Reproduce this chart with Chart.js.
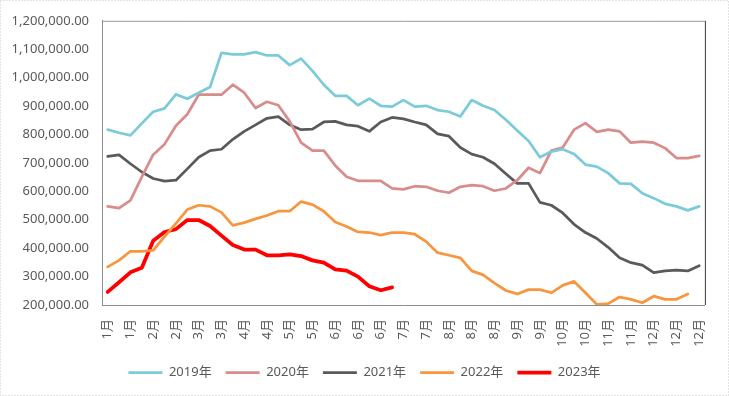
<!DOCTYPE html>
<html>
<head>
<meta charset="utf-8">
<script src="https://cdn.jsdelivr.net/npm/chart.js@4/dist/chart.umd.min.js"></script>
<style>
html,body{margin:0;padding:0;background:#fff;}
canvas{display:block;}
</style>
</head>
<body>
<canvas id="c" width="729" height="396"></canvas>
<script>
const weekLabels = ['1月','1月','1月','1月','2月','2月','2月','2月','3月','3月','3月','3月','4月','4月','4月','4月','5月','5月','5月','5月','6月','6月','6月','6月','6月','7月','7月','7月','7月','7月','8月','8月','8月','8月','8月','9月','9月','9月','9月','10月','10月','10月','10月','11月','11月','11月','11月','12月','12月','12月','12月','12月','12月'];

const seriesNames = ['2019年','2020年','2021年','2022年','2023年'];

const y2019 = [817000,806000,797000,839000,880000,892000,941000,926000,947000,967000,1087000,1082000,1082000,1090000,1078000,1078000,1044000,1067000,1024000,975000,936000,936000,903000,926000,901000,898000,921000,898000,901000,886000,880000,863000,921000,901000,886000,852000,814000,777000,720000,740000,748000,731000,694000,687000,664000,628000,626000,593000,576000,556000,547000,533000,547000];
const y2020 = [547000,541000,568000,651000,729000,766000,831000,871000,940000,940000,940000,975000,947000,893000,915000,903000,846000,771000,743000,743000,691000,651000,637000,637000,637000,610000,607000,618000,616000,602000,595000,616000,622000,618000,602000,610000,639000,683000,664000,743000,754000,817000,840000,809000,817000,811000,771000,775000,771000,752000,717000,717000,725000];
const y2021 = [723000,728000,697000,668000,645000,636000,639000,679000,720000,743000,748000,783000,811000,834000,857000,863000,834000,817000,819000,844000,846000,834000,829000,811000,844000,860000,855000,844000,834000,802000,794000,754000,731000,720000,697000,662000,628000,628000,561000,551000,524000,484000,455000,434000,403000,366000,349000,340000,314000,320000,323000,320000,338000];
const y2022 = [334000,357000,389000,389000,392000,441000,487000,536000,551000,547000,526000,480000,490000,503000,515000,530000,530000,564000,553000,530000,492000,476000,457000,455000,446000,455000,455000,449000,423000,384000,375000,366000,320000,306000,277000,251000,239000,254000,254000,243000,269000,283000,243000,202000,205000,228000,220000,208000,231000,220000,220000,239000,null];
const y2023 = [246000,280000,315000,331000,426000,457000,467000,499000,499000,478000,444000,411000,395000,395000,375000,375000,378000,372000,357000,349000,325000,321000,300000,266000,252000,262000];

const yMin = 200000, yMax = 1200000, yStep = 100000;

const colors = ['#7CCBD8','#D98C8C','#5A5A5A','#F7963E','#FF0000'];
const widths = [2.75,2.75,2.75,2.75,3.75];
const allData = [y2019,y2020,y2021,y2022,y2023];

const FONT = '"Noto Sans", "Noto Sans CJK SC", sans-serif';
const TXT = '#595959';

const framePlugin = {
  id: 'frame',
  beforeDatasetsDraw(chart) {
    const {ctx, chartArea: a} = chart;
    ctx.save();
    ctx.lineWidth = 1;
    ctx.strokeStyle = '#9a9a9a';
    ctx.beginPath();
    ctx.moveTo(a.left, a.top + 0.5);
    ctx.lineTo(a.right, a.top + 0.5);
    ctx.stroke();
    ctx.strokeStyle = '#3a3a3a';
    ctx.beginPath();
    ctx.moveTo(a.right + 0.5, a.top);
    ctx.lineTo(a.right + 0.5, a.bottom);
    ctx.stroke();
    ctx.restore();
  },
  afterDraw(chart) {
    const {ctx, width, height} = chart;
    ctx.save();
    ctx.strokeStyle = '#c8c8c8';
    ctx.setLineDash([1, 2]);
    ctx.lineWidth = 1;
    ctx.strokeRect(0.5, 0.5, width - 1, height - 1);
    ctx.restore();
  }
};

new Chart(document.getElementById('c'), {
  type: 'line',
  data: {
    labels: weekLabels,
    datasets: seriesNames.map((n, i) => ({
      label: n,
      data: allData[i],
      borderColor: colors[i],
      backgroundColor: colors[i],
      borderWidth: widths[i],
      pointRadius: 0,
      pointHoverRadius: 0,
      tension: 0,
      fill: false,
      spanGaps: false,
      borderJoinStyle: 'round',
      borderCapStyle: 'round'
    }))
  },
  options: {
    responsive: false,
    devicePixelRatio: 1,
    animation: false,
    layout: {padding: {left: 0, right: 0, top: 19, bottom: 7}},
    plugins: {
      tooltip: {enabled: false},
      legend: {
        position: 'bottom',
        labels: {
          usePointStyle: true,
          pointStyle: 'line',
          pointStyleWidth: 34,
          boxHeight: 13,
          color: TXT,
          font: {family: FONT, size: 13},
          padding: 14
        }
      }
    },
    scales: {
      x: {
        offset: true,
        grid: {display: false, drawTicks: false},
        border: {display: true, color: '#8c8c8c', width: 1},
        ticks: {
          autoSkip: false,
          minRotation: 90,
          maxRotation: 90,
          padding: 14,
          color: TXT,
          font: {family: FONT, size: 13},
          callback: function(v, i) { return i % 2 === 0 ? weekLabels[i] : ''; }
        },
        afterFit(scale) { scale.height = 47; }
      },
      y: {
        min: yMin,
        max: yMax,
        grid: {display: false, drawTicks: false},
        border: {display: true, color: '#8c8c8c', width: 1},
        ticks: {
          stepSize: yStep,
          padding: 13,
          color: TXT,
          font: {family: FONT, size: 13},
          callback: v => Number(v).toLocaleString('en-US', {minimumFractionDigits: 2, maximumFractionDigits: 2})
        },
        afterFit(scale) { scale.width = 102; }
      },
      yRight: {
        position: 'right',
        min: yMin,
        max: yMax,
        grid: {display: false, drawTicks: false},
        border: {display: false},
        ticks: {display: false},
        afterFit(scale) { scale.width = 20; }
      }
    }
  },
  plugins: [framePlugin]
});
</script>
</body>
</html>
